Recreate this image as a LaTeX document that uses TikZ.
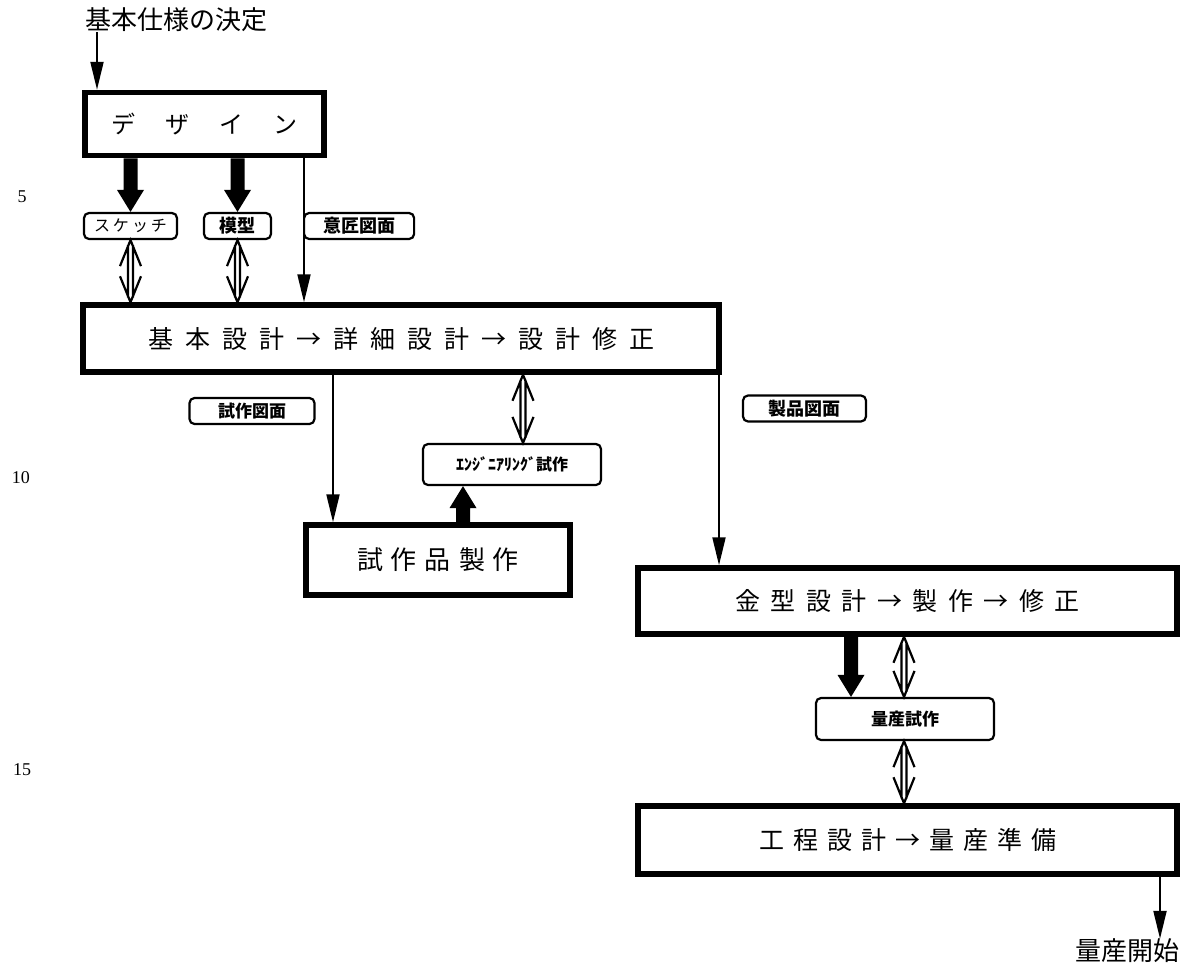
\documentclass[tikz,border=0pt]{standalone}
\usepackage{fontspec}
\newfontfamily\jp{Noto Sans CJK JP}
\newfontfamily\numfont{Liberation Serif}
\usetikzlibrary{arrows.meta,calc}
\newlength\jgap
\newcommand\jg{\hspace{\jgap}}
% fat filled arrow, vertical: #1 tail point, #2 tip point
\newcommand\fatdown[2]{\fill let \p1=#1, \p2=#2 in (\x1-7pt,\y1) -- (\x1+7pt,\y1) -- (\x1+7pt,\y2+22pt) -- (\x1+13.5pt,\y2+22pt) -- (\x1,\y2) -- (\x1-13.5pt,\y2+22pt) -- (\x1-7pt,\y2+22pt) -- cycle;}
\newcommand\fatup[2]{\fill let \p1=#1, \p2=#2 in (\x1-7pt,\y1) -- (\x1+7pt,\y1) -- (\x1+7pt,\y2-22pt) -- (\x1+13.5pt,\y2-22pt) -- (\x1,\y2) -- (\x1-13.5pt,\y2-22pt) -- (\x1-7pt,\y2-22pt) -- cycle;}
% open double arrow: #1 top point, #2 bottom point
\newcommand\dblarrow[2]{\draw[line width=2.2pt] let \p1=#1, \p2=#2 in (\x1-10.5pt,\y1-26pt) -- (\x1,\y1) -- (\x1+10.5pt,\y1-26pt) (\x1-2.5pt,\y1-5pt) -- (\x1-2.5pt,\y2+5pt) (\x1+2.5pt,\y1-5pt) -- (\x1+2.5pt,\y2+5pt) (\x1-10.5pt,\y2+26pt) -- (\x1,\y2) -- (\x1+10.5pt,\y2+26pt);}
\begin{document}
\begin{tikzpicture}[x=1pt,y=-1pt,
  bigbox/.style={draw,line width=5.5pt,inner sep=0pt,font=\jp\fontsize{25}{25}\selectfont},
  lbl/.style={draw,rounded corners=5pt,line width=2.2pt,inner sep=0pt,font=\jp\bfseries\fontsize{17}{17}\selectfont},
  thinarrow/.style={line width=2pt,-{Triangle[length=28pt,width=13pt]}},
  plaintext/.style={inner sep=0pt},
  linenum/.style={inner sep=0pt,font=\numfont\fontsize{18pt}{18pt}\selectfont}]
\useasboundingbox[fill=white] (0,0) rectangle (1184,967);

% line numbers
\node[linenum] (n5) at (22,197) {5};
\node[linenum] (n10) at (21,478) {10};
\node[linenum] (n15) at (22,770) {15};

% x positions
\coordinate (c97) at (97,0);
\coordinate (c304) at (304,0);
\coordinate (c333) at (333,0);
\coordinate (c463) at (463,0);
\coordinate (c523) at (523,0);
\coordinate (c719) at (719,0);
\coordinate (c851) at (851,0);
\coordinate (c904) at (904,0);
\coordinate (c1160) at (1160,0);

% nodes
\node[plaintext,font=\jp\fontsize{26}{26}\selectfont] (title) at (176,20) {基本仕様の決定};
\node[bigbox,minimum width=239pt,minimum height=63pt,font=\jp\fontsize{24}{24}\selectfont] (design) at (204.5,124) {\setlength\jgap{30pt}デ\jg ザ\jg イ\jg ン};
\node[lbl,minimum width=93pt,minimum height=26pt,font=\jp\fontsize{16}{16}\selectfont] (sketch) at (130.5,226) {\setlength\jgap{3pt}ス\jg ケ\jg ッ\jg チ};
\node[lbl,minimum width=67pt,minimum height=26pt,font=\jp\bfseries\fontsize{18}{18}\selectfont] (mokei) at (237.5,226) {模型};
\node[lbl,anchor=west,minimum width=110pt,minimum height=26pt,font=\jp\bfseries\fontsize{18}{18}\selectfont] (isho) at (303,226) {意匠図面};
\node[bigbox,minimum width=636pt,minimum height=67pt] (box1) at (401,338.5) {\setlength\jgap{12pt}基\jg 本\jg 設\jg 計\jg →\jg 詳\jg 細\jg 設\jg 計\jg →\jg 設\jg 計\jg 修\jg 正};
\node[lbl,minimum width=125pt,minimum height=26pt] (shisakuzumen) at (252,411) {試作図面};
\node[lbl,minimum width=123pt,minimum height=26pt,font=\jp\bfseries\fontsize{18}{18}\selectfont] (seihinzumen) at (804.5,408.5) {製品図面};
\node[lbl,minimum width=178pt,minimum height=41pt,font=\jp\bfseries\fontsize{16}{16}\selectfont] (engi) at (512,464.5) {ｴﾝｼﾞﾆｱﾘﾝｸﾞ試作};
\node[bigbox,minimum width=264pt,minimum height=70pt,font=\jp\fontsize{26}{26}\selectfont] (shisakuhin) at (438,560) {\setlength\jgap{8pt}試\jg 作\jg 品\jg 製\jg 作};
\node[bigbox,minimum width=539pt,minimum height=66pt] (kanagata) at (907.5,601) {\setlength\jgap{10.5pt}金\jg 型\jg 設\jg 計\jg →\jg 製\jg 作\jg →\jg 修\jg 正};
\node[lbl,minimum width=178pt,minimum height=42pt] (ryosan) at (905,719) {量産試作};
\node[bigbox,minimum width=539pt,minimum height=68pt] (kotei) at (907.5,840) {\setlength\jgap{9pt}工\jg 程\jg 設\jg 計\jg →\jg 量\jg 産\jg 準\jg 備};
\node[plaintext,font=\jp\fontsize{26}{26}\selectfont] (kaishi) at (1127,951) {量産開始};

% connectors
\draw[thinarrow] (title.south -| c97) -- (design.north -| c97);
\fatdown{(design.south -| sketch.north)}{(sketch.north)}
\fatdown{(design.south -| mokei.north)}{(mokei.north)}
\draw[thinarrow] (design.south -| c304) -- (box1.north -| c304);
\dblarrow{(sketch.south)}{(box1.north -| sketch.south)}
\dblarrow{(mokei.south)}{(box1.north -| mokei.south)}
\draw[thinarrow] (box1.south -| c333) -- (shisakuhin.north -| c333);
\dblarrow{(box1.south -| c523)}{(engi.north -| c523)}
\fatup{(shisakuhin.north -| c463)}{(engi.south -| c463)}
\draw[thinarrow] (box1.south -| c719) -- (kanagata.north -| c719);
\fatdown{(kanagata.south -| c851)}{(ryosan.north -| c851)}
\dblarrow{(kanagata.south -| c904)}{(ryosan.north -| c904)}
\dblarrow{(ryosan.south -| c904)}{(kotei.north -| c904)}
\draw[thinarrow] (kotei.south -| c1160) -- (kaishi.north -| c1160);
\end{tikzpicture}
\end{document}
